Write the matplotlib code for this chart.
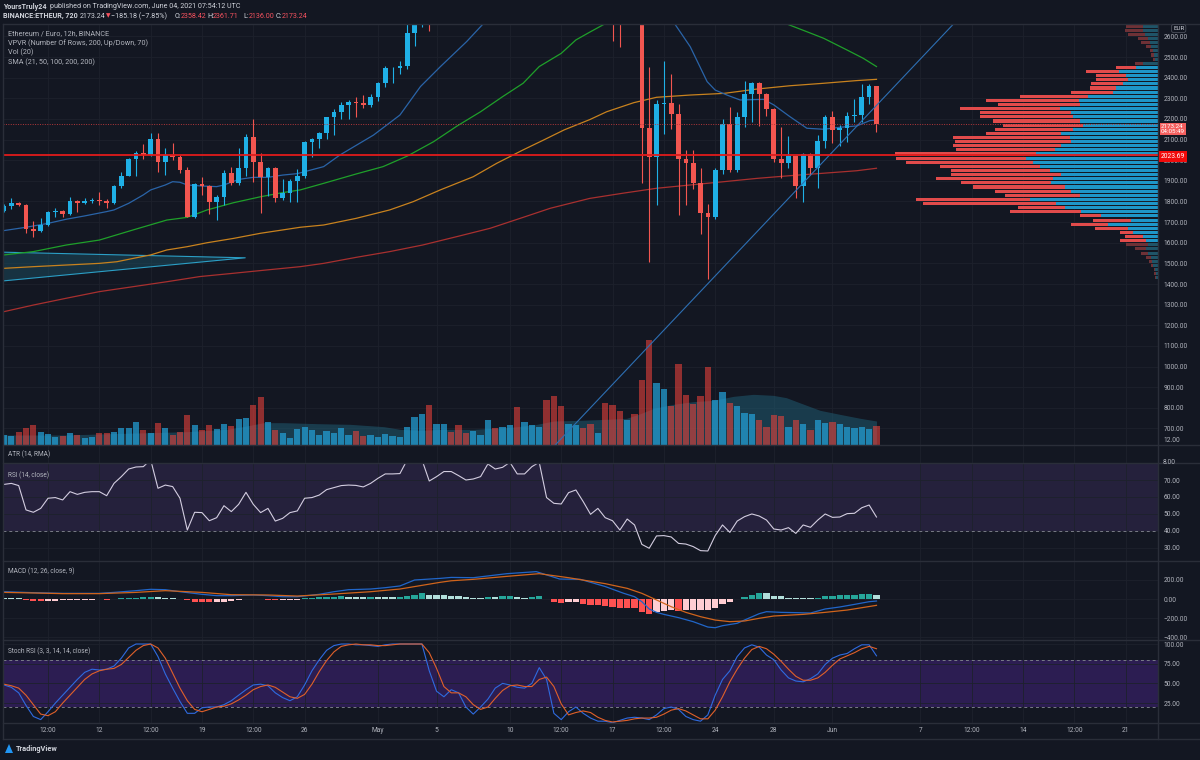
import numpy as np
import matplotlib
matplotlib.use("Agg")
import matplotlib.pyplot as plt
from matplotlib.lines import Line2D
from matplotlib.patches import Polygon

plt.rcParams['font.family'] = ['Roboto', 'DejaVu Sans']

# ---------------- data (12h candles, index 0 = 5 Apr 2021 12:00) ----------------
opens = [1755, 1780, 1794, 1783, 1667, 1659, 1686, 1747, 1754, 1738,
         1802, 1791, 1804, 1807, 1804, 1794, 1877, 1924, 2004, 2033,
         2027, 2103, 1990, 2025, 2017, 1953, 1726, 1885, 1875, 1799,
         1823, 1940, 1888, 1961, 2114, 1993, 1917, 1961, 1815, 1840,
         1901, 1924, 2090, 2101, 2130, 2208, 2232, 2268, 2281, 2277,
         2269, 2305, 2373, 2445, 2449, 2455, 2616, 2790, 2900, 2720,
         2860, 2910, 2880, 2860, 2840, 2880, 2950, 3050, 3000, 3150,
         3300, 3250, 3280, 3350, 3500, 3150, 3000, 2950, 3150, 3300,
         3100, 3000, 3050, 2900, 2760, 2740, 2820, 2750, 2158, 2014,
         2271, 2276, 2222, 2004, 1988, 1888, 1743, 1727, 1953, 2176,
         1953, 2211, 2321, 2373, 2321, 2247, 2004, 1985, 2020, 1877,
         2030, 1961, 2095, 2211, 2147, 2158, 2214, 2219, 2305, 2358.42]
closes = [1780, 1794, 1783, 1667, 1659, 1686, 1747, 1754, 1738, 1802,
          1791, 1804, 1807, 1804, 1794, 1877, 1924, 2004, 2033, 2027,
          2103, 1990, 2025, 2017, 1953, 1726, 1885, 1875, 1799, 1823,
          1940, 1888, 1961, 2114, 1993, 1917, 1961, 1815, 1840, 1901,
          1924, 2090, 2101, 2130, 2208, 2232, 2268, 2281, 2277, 2269,
          2305, 2373, 2445, 2449, 2455, 2616, 2790, 2900, 2720, 2860,
          2910, 2880, 2860, 2840, 2880, 2950, 3050, 3000, 3150, 3300,
          3250, 3280, 3350, 3500, 3150, 3000, 2950, 3150, 3300, 3100,
          3000, 3050, 2900, 2760, 2740, 2820, 2750, 2158, 2014, 2271,
          2276, 2222, 2004, 1988, 1888, 1743, 1727, 1953, 2176, 1953,
          2211, 2321, 2373, 2321, 2247, 2004, 1985, 2020, 1877, 2030,
          1961, 2095, 2211, 2147, 2158, 2214, 2219, 2305, 2358.42, 2173.24]
highs = [1788, 1818, 1798, 1790, 1705, 1722, 1752, 1767, 1759, 1823,
         1807, 1819, 1819, 1848, 1812, 1880, 1945, 2009, 2046, 2077,
         2130, 2130, 2061, 2082, 2025, 1969, 1891, 1917, 1880, 1830,
         1953, 1969, 2058, 2126, 2198, 2033, 1969, 1969, 1907, 1907,
         1958, 2095, 2106, 2138, 2211, 2247, 2284, 2292, 2308, 2316,
         2321, 2381, 2457, 2454, 2481, 2700, 2850, 2960, 2950, 2900,
         2960, 2950, 2920, 2900, 2920, 2990, 3090, 3100, 3180, 3340,
         3450, 3320, 3400, 3560, 3600, 3200, 3100, 3200, 3380, 3320,
         3150, 3100, 3080, 2950, 2850, 2880, 2840, 2780, 2450, 2292,
         2481, 2416, 2271, 2050, 2050, 1961, 1786, 1961, 2198, 2256,
         2235, 2384, 2381, 2381, 2324, 2252, 2163, 2117, 2025, 2037,
         2037, 2122, 2219, 2239, 2171, 2235, 2297, 2368, 2370, 2361.71]
lows = [1748, 1764, 1776, 1646, 1630, 1651, 1680, 1726, 1723, 1735,
        1751, 1786, 1794, 1783, 1770, 1790, 1864, 1922, 1924, 2004,
        2020, 1945, 1928, 2001, 1940, 1723, 1720, 1832, 1738, 1710,
        1783, 1880, 1880, 1924, 1896, 1746, 1827, 1799, 1807, 1799,
        1799, 1912, 2014, 2058, 2101, 2122, 2200, 2200, 2211, 2252,
        2256, 2289, 2357, 2373, 2418, 2440, 2552, 2645, 2628, 2690,
        2820, 2830, 2810, 2780, 2800, 2850, 2930, 2960, 2980, 3120,
        3150, 3180, 3250, 3330, 3050, 2900, 2850, 2920, 3100, 3050,
        2900, 2950, 2750, 2576, 2547, 2700, 2690, 1888, 1508, 1783,
        2126, 2150, 1735, 1783, 1859, 1641, 1424, 1714, 1932, 1945,
        1945, 2160, 2187, 2168, 2216, 1993, 1912, 1961, 1815, 1799,
        1928, 1867, 2058, 2082, 2069, 2090, 2187, 2187, 2273, 2136.00]
volumes = [29, 27, 39, 50, 60, 39, 32, 25, 27, 35,
           29, 22, 25, 35, 35, 39, 50, 50, 69, 45,
           37, 66, 52, 30, 39, 91, 60, 45, 60, 49,
           62, 57, 77, 82, 120, 143, 69, 45, 37, 21,
           48, 53, 45, 30, 42, 36, 52, 30, 42, 27,
           30, 25, 34, 27, 25, 54, 84, 94, 120, 64,
           64, 39, 59, 35, 42, 29, 74, 52, 55, 60,
           114, 69, 60, 54, 136, 147, 117, 62, 60, 52,
           62, 37, 126, 120, 102, 74, 94, 194, 315, 185,
           168, 117, 243, 150, 124, 147, 234, 134, 158, 126,
           117, 96, 94, 75, 54, 89, 87, 54, 74, 64,
           45, 75, 67, 69, 64, 54, 52, 55, 49, 57]
vma_x = [0, 8.5, 14.5, 20, 25, 30.4, 33.1, 35.4, 38.1, 42.7, 47.2, 51.8, 54, 56.8, 60, 64,
         68.6, 72.2, 75, 78.6, 82.2, 84.9, 86.8, 88.6, 91.3, 94, 96.8, 99.5, 102.2, 104.9,
         106.7, 108.5, 111.3, 114, 116.8, 119]
vma_v = [30, 30, 34, 37, 40, 47, 57, 67, 67, 64, 62, 55, 47, 44, 47, 47,
         52, 60, 72, 74, 77, 80, 94, 110, 122, 130, 134, 146, 152, 149,
         142, 127, 104, 92, 80, 72]

sma21_x = [0, 3, 6, 8.5, 11, 14, 15, 17, 19, 20, 22, 23, 24, 25, 27, 29, 30, 32, 34, 36, 38, 40,
           43.6, 45.8, 50.4, 54, 56.8, 59.5, 63.1, 65.2, 70, 78, 85, 90, 91.5, 93.6, 95.9, 97,
           98.6, 100.4, 103.6, 105, 107.2, 109.5, 111.8, 114.1, 116.3, 118.1, 119]
sma21_y = [1659, 1675, 1694, 1714, 1730, 1751, 1759, 1791, 1832, 1856, 1880, 1896, 1893, 1880,
           1875, 1872, 1880, 1907, 1917, 1917, 1928, 1935, 1969, 2025, 2122, 2219, 2357, 2453,
           2575, 2655, 2850, 3050, 3000, 2760, 2660, 2550, 2381, 2340, 2316, 2292, 2295, 2268,
           2211, 2155, 2150, 2160, 2166, 2192, 2195]
sma50_x = [0, 4, 8.5, 13, 17.6, 22.2, 25, 27.7, 31.3, 35, 38, 40.4, 43.6, 48, 51.7, 55, 58.6,
           61.8, 65, 68, 70.8, 73, 76, 78, 80, 85, 95, 102, 106.8, 109.5, 111.8, 115, 117.2, 119]
sma50_y = [1541, 1557, 1589, 1613, 1662, 1710, 1723, 1759, 1794, 1823, 1843, 1856, 1888, 1933,
           1969, 2020, 2090, 2166, 2235, 2308, 2373, 2454, 2518, 2583, 2623, 2720, 2800, 2740,
           2660, 2623, 2591, 2534, 2494, 2454]
sma100_x = [0, 4, 8.5, 13, 15.4, 17.6, 20, 22.2, 25, 27.7, 31.3, 35, 38, 40.4, 43.6, 48, 52.6,
            55.8, 59.5, 64, 67.2, 70.8, 73.6, 76.4, 79.9, 82.2, 85.9, 89, 93.6, 98.2, 102.7,
            107.2, 111.8, 116.3, 119]
sma100_y = [1476, 1484, 1492, 1500, 1508, 1524, 1541, 1565, 1581, 1600, 1621, 1646, 1662, 1675,
            1686, 1718, 1759, 1799, 1856, 1920, 1985, 2050, 2098, 2147, 2197, 2235, 2279, 2305,
            2316, 2324, 2345, 2361, 2373, 2386, 2392]
sma200_x = [0, 4, 8.5, 13, 17.6, 22.2, 26.7, 31.3, 35.8, 40.4, 43.6, 48, 52.6, 57.1, 61.8, 66.3,
            70.8, 74.5, 79.9, 84.4, 89, 93.6, 98.2, 102.7, 107.2, 111.8, 116.3, 119]
sma200_y = [1266, 1298, 1331, 1363, 1387, 1411, 1436, 1452, 1468, 1484, 1500, 1529, 1557, 1589,
            1630, 1670, 1723, 1767, 1815, 1840, 1864, 1880, 1896, 1912, 1925, 1937, 1949, 1961]

# VPVR rows (20 EUR each), up / down volume
vp_price = list(range(2650, 1420, -20))
vp_up = [15, 15, 13, 10, 8, 7, 5, 4, 3, 15, 22, 39, 32, 30, 35, 42, 45, 70, 79, 78, 98, 87, 85,
         78, 75, 85, 97, 88, 87, 97, 103, 122, 132, 125, 118, 108, 97, 105, 107, 93, 87, 78,
         128, 102, 93, 77, 57, 27, 50, 30, 25, 15, 12, 10, 12, 10, 7, 6, 5, 3, 2, 2]
vp_dn = [17, 18, 17, 10, 9, 5, 3, 3, 2, 8, 20, 33, 30, 32, 32, 26, 42, 68, 93, 82, 100, 91, 93,
         87, 80, 78, 75, 117, 116, 108, 99, 141, 130, 127, 100, 99, 110, 117, 90, 92, 76, 75,
         114, 133, 47, 71, 21, 38, 37, 33, 13, 18, 26, 22, 11, 7, 5, 3, 2, 1, 2, 1]
va_low, va_high = 1610, 2450

rsi = [67.4, 68.0, 66.7, 52.3, 50.9, 53.2, 59.2, 59.6, 58.2, 63.1,
       61.5, 62.7, 63.1, 63.1, 60.7, 68.0, 72.0, 76.5, 77.7, 77.9,
       82.0, 65.1, 67.0, 66.1, 59.2, 40.4, 50.9, 50.7, 45.9, 47.7,
       54.8, 51.3, 55.6, 62.7, 55.6, 50.7, 53.2, 45.7, 47.3, 50.7,
       51.7, 59.2, 59.6, 61.1, 64.3, 65.5, 66.7, 67.0, 66.8, 65.9,
       68.0, 71.0, 73.6, 73.6, 73.8, 82.0, 85.0, 82.0, 69.4, 72.0,
       75.0, 75.0, 72.6, 70.0, 70.6, 72.0, 79.5, 76.5, 77.5, 80.5,
       73.6, 73.6, 77.9, 80.5, 59.6, 56.2, 55.8, 62.5, 64.1, 57.2,
       49.7, 53.2, 47.7, 45.9, 40.4, 46.9, 43.4, 31.9, 29.6, 36.9,
       37.1, 36.3, 32.5, 32.1, 30.6, 28.2, 28.0, 37.1, 43.4, 39.0,
       45.7, 48.3, 49.9, 48.7, 46.3, 41.0, 40.4, 41.8, 38.4, 43.4,
       42.0, 46.3, 49.9, 47.9, 48.1, 50.1, 50.3, 53.6, 55.2, 48.1]

macd_x = [0, 4, 8, 13, 15, 18, 20, 22, 24, 27, 29, 31, 34, 36, 38, 40, 43, 45, 47, 50, 52, 54,
          56, 59.5, 61, 64, 68.6, 72.6, 75.8, 78.6, 82, 84.5, 86, 87, 88, 89, 90, 92, 94, 96,
          97, 98, 100, 101, 103, 104, 106, 108, 110, 112, 114, 116, 118, 119]
macd_y = [76, 66, 59, 59, 69, 87, 101, 97, 76, 49, 35, 35, 42, 35, 24, 24, 49, 76, 97, 104, 118,
          136, 198, 215, 225, 222, 264, 285, 208, 205, 130, 60, 24, -28, -104, -139, -160, -194,
          -236, -292, -299, -278, -253, -219, -153, -132, -139, -142, -146, -104, -83, -56, -28, -21]
signal_x = [0, 4, 8, 13, 18, 22, 27, 31, 36, 40, 45, 50, 54, 59.5, 61, 64, 68.6, 73, 77, 82, 85,
            87, 89, 91, 93, 95, 97, 99, 101, 103, 105, 109, 112, 115, 119]
signal_y = [69, 63, 56, 56, 69, 87, 69, 45, 42, 31, 52, 76, 104, 174, 190, 205, 236, 264, 222,
            160, 111, 59, -10, -80, -139, -184, -219, -236, -229, -201, -177, -160, -139, -115, -66]
hist = [14, 14, 10, -10, -17, -20, -17, -17, -15, -14,
        -12, -8, -6, -5, -8, 3, 6, 10, 14, 22,
        25, 20, 14, 12, 0, -14, -28, -30, -35, -35,
        -28, -20, -14, 3, -4, -3, -8, -14, -14, -10,
        -6, 10, 14, 17, 21, 24, 28, 22, 20, 18,
        20, 18, 18, 16, 24, 35, 45, 62, 45, 42,
        42, 35, 28, 17, 7, 7, 21, 21, 28, 35,
        21, 14, 21, 28, 0, -28, -42, -35, -35, -49,
        -62, -64, -73, -83, -90, -95, -97, -132, -153, -139,
        -125, -115, -125, -115, -115, -115, -115, -90, -49, -28,
        3, 21, 42, 59, 59, 35, 28, 14, 7, 7,
        7, 14, 35, 36, 38, 39, 45, 49, 50, 42]

stoch_k = [48, 45, 38, 22, 8, 4, 14, 25, 35, 45, 55, 64, 68, 67, 68, 72, 82, 95, 100, 100,
           100, 84, 62, 44, 27, 12, 12, 19, 20, 20, 23, 28, 35, 42, 48, 49, 47, 38, 32, 28,
           33, 48, 66, 80, 92, 98, 100, 100, 99, 99, 98, 97, 99, 100, 100, 100, 100, 100, 66, 40,
           33, 42, 38, 20, 11, 20, 30, 44, 50, 48, 45, 44, 50, 70, 55, 12, 4, 14, 20, 12,
           6, 2, 2, 0, 3, 6, 7, 6, 4, 10, 18, 20, 17, 8, 4, 2, 10, 35, 55, 66,
           84, 95, 99, 96, 86, 80, 67, 57, 53, 52, 56, 62, 74, 82, 86, 88, 94, 99, 99, 85]
stoch_d = [49, 47, 44, 35, 23, 11, 9, 14, 25, 35, 45, 55, 62, 66, 68, 69, 74, 83, 92, 98,
           100, 95, 82, 63, 44, 28, 17, 14, 17, 20, 21, 24, 29, 35, 42, 46, 48, 45, 39, 33,
           31, 36, 49, 65, 79, 90, 97, 99, 100, 99, 99, 98, 98, 99, 100, 100, 100, 100, 89, 69,
           46, 38, 38, 33, 23, 17, 20, 31, 41, 47, 48, 46, 46, 55, 58, 46, 24, 10, 13, 15,
           13, 7, 3, 1, 2, 3, 5, 6, 6, 7, 11, 16, 18, 15, 10, 5, 5, 16, 33, 52,
           68, 82, 93, 97, 94, 87, 78, 68, 59, 54, 54, 57, 64, 73, 81, 85, 89, 94, 97, 94]

tick_idx = [6, 13, 20, 27, 34, 41, 51, 59, 69, 76, 83, 90, 97, 105, 113, 125, 132, 139, 146, 153]
tick_lbl = ['12:00', '12', '12:00', '19', '12:00', '26', 'May', '5', '10', '12:00', '17',
            '12:00', '24', '28', 'Jun', '7', '12:00', '14', '12:00', '21']
price_ticks = list(range(700, 2700, 100))

# ---------------- style ----------------
BG = '#131722'
GRID = '#1d212c'
TXT = '#b2b5be'
UP = '#1fb0e6'
DN = '#f25650'
SEP = '#2a2e39'
FS = 4.8

W, H = 1200.0, 760.0
fig = plt.figure(figsize=(12, 7.6), dpi=100)
fig.patch.set_facecolor(BG)
XL, XR = 3, 1158
XLIM = (-0.14, 157.4)


def new_ax(top, bot):
    return fig.add_axes([XL / W, 1 - bot / H, (XR - XL) / W, (bot - top) / H])


def style(ax, ylim, yticks, ylabels):
    ax.set_facecolor(BG)
    for s in ax.spines.values():
        s.set_visible(False)
    ax.yaxis.tick_right()
    ax.set_yticks(yticks)
    ax.set_yticklabels(ylabels)
    ax.tick_params(axis='y', length=0, pad=4, labelsize=FS, labelcolor=TXT)
    ax.set_xticks(tick_idx)
    ax.tick_params(axis='x', length=0, labelbottom=False)
    ax.grid(True, color=GRID, lw=0.6)
    ax.set_axisbelow(True)
    ax.set_xlim(*XLIM)
    ax.set_ylim(*ylim)


idx = np.arange(len(closes))
o = np.array(opens, float)
c = np.array(closes, float)
hi = np.array(highs, float)
lo = np.array(lows, float)
is_up = c >= o

# ---------------- price pane ----------------
ax = new_ax(24, 445)
style(ax, (619.6, 2660.3), price_ticks, ['%.2f' % v for v in price_ticks])

xtr = ax.get_xaxis_transform()
VSCALE = 1263.0
ax.fill_between(vma_x, 0, np.array(vma_v) / VSCALE, transform=xtr,
                color='#1f5a70', alpha=0.55, lw=0, zorder=1.5)
vcols = [(35 / 255, 160 / 255, 214 / 255, 0.72) if u else (235 / 255, 66 / 255, 59 / 255, 0.58)
         for u in is_up]
ax.bar(idx, np.array(volumes) / VSCALE, width=0.85, bottom=0, transform=xtr,
       color=vcols, lw=0, zorder=2)

# VPVR
ytr = ax.get_yaxis_transform()
VPW = 1155.0
vpu = np.array(vp_up, float)
vpd = np.array(vp_dn, float)
vpp = np.array(vp_price, float)
inva = (vpp >= va_low) & (vpp <= va_high)
upc = np.where(inva, '#1e96c8', '#1f5468')
dnc = np.where(inva, '#e14b4b', '#6e3136')
ax.barh(vpp, vpu / VPW, left=1 - vpu / VPW, height=15, color=upc, transform=ytr, lw=0, zorder=2)
ax.barh(vpp, vpd / VPW, left=1 - (vpu + vpd) / VPW, height=15, color=dnc, transform=ytr,
        lw=0, zorder=2)

# drawing: triangle
tri_x = [-1, 32.9, -1]
tri_y = [1555, 1527, 1412]
ax.add_patch(Polygon(list(zip(tri_x, tri_y)), closed=True, fc='#1c4a5c', alpha=0.55, lw=0, zorder=2.5))
ax.plot(tri_x, tri_y, color='#2b9fc6', lw=0.8, zorder=2.6)

# moving averages
ax.plot(sma200_x, sma200_y, color='#a8302f', lw=0.9, zorder=3)
ax.plot(sma100_x, sma100_y, color='#c8821e', lw=0.9, zorder=3)
ax.plot(sma50_x, sma50_y, color='#1fa02a', lw=0.9, zorder=3)
ax.plot(sma21_x, sma21_y, color='#2a64a8', lw=0.9, zorder=3)

# candles
ccols = np.where(is_up, UP, DN)
ax.vlines(idx, lo, hi, colors=ccols, lw=0.8, zorder=4)
ax.bar(idx, np.maximum(np.abs(c - o), 3.0), bottom=np.minimum(o, c), width=0.64,
       color=ccols, lw=0, zorder=4.5)

# trend line and levels
ax.axline((75.3, 624), (120.9, 2337), color='#2d6fb3', lw=0.8, zorder=5)
ax.axhline(2023.69, color='#e01b1b', lw=1.3, zorder=6)
ax.axhline(2173.24, color='#b5383a', lw=0.7, ls=(0, (1, 1.5)), zorder=6)
ax.set_xlim(*XLIM)
ax.set_ylim(619.6, 2660.3)

# ---------------- ATR pane ----------------
ax_atr = new_ax(445, 463)
style(ax_atr, (0, 1), [], [])

# ---------------- RSI pane ----------------
ax_rsi = new_ax(463, 561)
rt = [30, 40, 50, 60, 70]
style(ax_rsi, (22.07, 80.06), rt, ['%.2f' % v for v in rt])
ax_rsi.axhspan(40, 80, color='#7e57c2', alpha=0.17, lw=0, zorder=0.5)
for lv in (40, 80):
    ax_rsi.axhline(lv, color='#787b86', lw=0.7, ls=(0, (3, 3)), zorder=1)
ax_rsi.plot(idx, rsi, color='#d3cde0', lw=0.8, zorder=3)
ax_rsi.set_ylim(22.07, 80.06)

# ---------------- MACD pane ----------------
ax_m = new_ax(561, 640)
mt = [-400, -200, 0, 200]
style(ax_m, (-427, 396), mt, ['\u2212400.00', '\u2212200.00', '0.00', '200.00'])
hcols = []
prev = None
for hv in hist:
    if hv >= 0:
        hcols.append('#26a69a' if (prev is not None and hv > prev) else '#b2dfdb')
    else:
        hcols.append('#ff5252' if (prev is not None and hv < prev) else '#ffcdd2')
    prev = hv
ax_m.bar(idx, hist, width=0.85, color=hcols, lw=0, zorder=2)
ax_m.plot(macd_x, macd_y, color='#2166c9', lw=0.9, zorder=3)
ax_m.plot(signal_x, signal_y, color='#d0641c', lw=0.9, zorder=3)
ax_m.set_ylim(-427, 396)

# ---------------- Stoch RSI pane ----------------
ax_s = new_ax(640, 723)
st = [25, 50, 75, 100]
style(ax_s, (-0.3, 105.1), st, ['%.2f' % v for v in st])
ax_s.axhspan(20, 80, color='#7030d0', alpha=0.28, lw=0, zorder=0.5)
for lv in (20, 80):
    ax_s.axhline(lv, color='#787b86', lw=0.7, ls=(0, (3, 3)), zorder=1)
ax_s.plot(idx, stoch_k, color='#2f6be0', lw=0.8, zorder=3)
ax_s.plot(idx, stoch_d, color='#e0602a', lw=0.8, zorder=3)
ax_s.set_xticklabels(tick_lbl)
ax_s.tick_params(axis='x', labelbottom=True, labelsize=FS, labelcolor=TXT, pad=3)
ax_s.set_ylim(-0.3, 105.1)

# ---------------- frame / separators ----------------
for yy in (24, 445, 463, 561, 640, 723, 739):
    fig.add_artist(Line2D([XL / W, 1], [1 - yy / H] * 2, color=SEP, lw=1.0))
fig.add_artist(Line2D([XR / W] * 2, [1 - 24 / H, 1 - 739 / H], color=SEP, lw=1.0))
fig.add_artist(Line2D([XL / W] * 2, [1 - 24 / H, 1 - 739 / H], color=SEP, lw=1.0))

# ---------------- texts ----------------
def ftext(x, y, s, **kw):
    kw.setdefault('color', TXT)
    kw.setdefault('fontsize', 5.2)
    kw.setdefault('va', 'center')
    kw.setdefault('ha', 'left')
    fig.text(x / W, 1 - y / H, s, **kw)

WH = '#d1d4dc'
RED = '#f7525f'
ftext(3, 6.7, 'YoursTruly24', color=WH, fontsize=5.1, fontweight='bold')
ftext(49.5, 6.7, 'published on TradingView.com, June 04, 2021 07:54:12 UTC', color=WH, fontsize=5.1)
ftext(3, 16, 'BINANCE:ETHEUR, 720', color=WH, fontsize=5.1, fontweight='bold')
ftext(80, 16, '2173.24', color=WH, fontsize=5.1)
ftext(105.5, 16, '\u25bc', color=RED, fontsize=4.2, family=['DejaVu Sans'])
ftext(111, 16, '\u2212185.18 (\u22127.85%)', color=WH, fontsize=5.1)
for xx, lab, val in ((175, 'O:', '2358.42'), (207, 'H:', '2361.71'),
                     (243, 'L:', '2136.00'), (276, 'C:', '2173.24')):
    ftext(xx, 16, lab, color=WH, fontsize=5.1)
    ftext(xx + 5.5, 16, val, color=RED, fontsize=5.1)

ftext(8, 33.5, 'Ethereum / Euro, 12h, BINANCE')
ftext(8, 43.2, 'VPVR (Number Of Rows, 200, Up/Down, 70)')
ftext(8, 52.8, 'Vol (20)')
ftext(8, 62.4, 'SMA (21, 50, 100, 200, 200)')
ftext(8, 454, 'ATR (14, RMA)', fontsize=4.7)
ftext(8, 475, 'RSI (14, close)', fontsize=4.7)
ftext(8, 571.5, 'MACD (12, 26, close, 9)', fontsize=4.7)
ftext(8, 651.5, 'Stoch RSI (3, 3, 14, 14, close)', fontsize=4.7)

ftext(1163, 441, '12.00', fontsize=FS)
ftext(1163, 463, '8.00', fontsize=FS)

ftext(1173, 28.5, 'EUR', fontsize=4.5, color=WH,
      bbox=dict(boxstyle='round,pad=0.25,rounding_size=0.35', fc=BG, ec='#4a4e5a', lw=0.6))
ftext(1161, 129, '2173.24\n04:05:49', fontsize=4.5, color='white', linespacing=1.1,
      bbox=dict(boxstyle='square,pad=0.2', fc='#f4605f', ec='none'))
ftext(1161, 156, '2023.69', fontsize=FS, color='white',
      bbox=dict(boxstyle='square,pad=0.3', fc='#f00a0a', ec='none'))

# footer logo
fig.add_artist(Polygon([(5 / W, 1 - 753 / H), (9 / W, 1 - 744 / H), (13 / W, 1 - 753 / H)],
                       closed=True, fc='#2196f3', ec='none'))
ftext(16, 749, 'TradingView', color=WH, fontsize=5.3, fontweight='bold')

fig.savefig('out.png', dpi=100, facecolor=BG)
